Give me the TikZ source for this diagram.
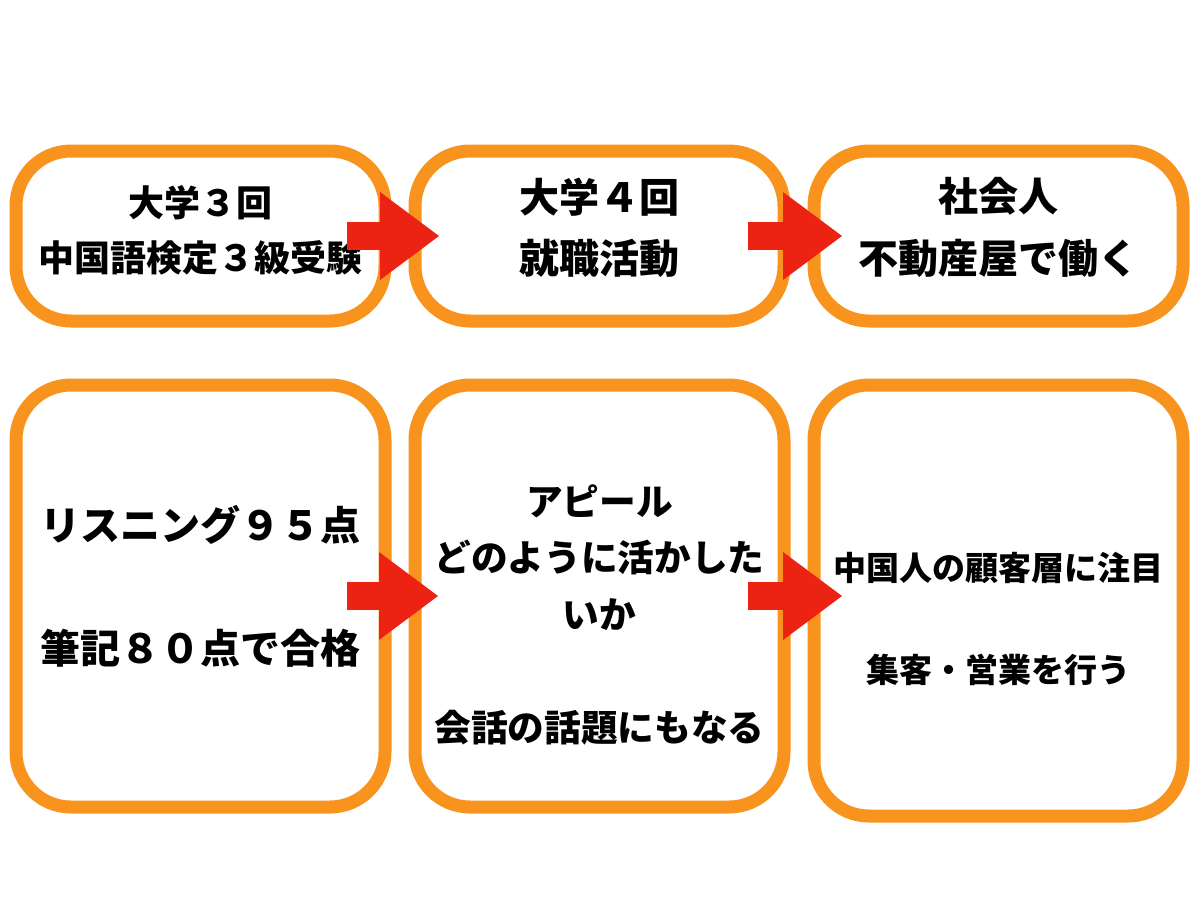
\documentclass[tikz,border=0pt]{standalone}
\usepackage{fontspec}
\usepackage{tikz}
\usetikzlibrary{arrows.meta, positioning}
\newfontfamily\jpfont{Noto Sans CJK JP}
\definecolor{boxorange}{RGB}{248,148,30}
\definecolor{arrowred}{RGB}{236,34,18}

\begin{document}
\begin{tikzpicture}[
    node distance=0.64cm and 0.3cm,
    pbox/.style={draw=boxorange, line width=0.13cm, rounded corners=0.55cm, fill=white, minimum width=3.69cm, outer sep=0pt},
    topbox/.style={pbox, minimum height=1.70cm},
    lowbox/.style={pbox, minimum height=4.22cm},
    ptext/.style={align=center, inner sep=0pt},
    bigtext/.style={font={\jpfont\bfseries\fontsize{11.4pt}{17.5pt}\selectfont}},
    parrow/.style={draw=arrowred, line width=0.28cm, -{Triangle[length=0.59cm, width=0.88cm, line width=0pt]}}
]
\fill[white] (0,0) rectangle (12,-9);

% Top Row
\node[topbox] (b1) at (2.005,-2.36) {};
\node[topbox, right=of b1] (b2) {};
\node[topbox, right=of b2] (b3) {};

% Bottom Row
\node[lowbox, below=of b1] (b4) {};
\node[lowbox, right=of b4] (b5) {};
\node[pbox, minimum height=4.31cm, below=of b3] (b6) {};

% Texts
\node[ptext, font={\jpfont\bfseries\fontsize{10.24pt}{15.8pt}\selectfont}, yshift=0.055cm] (t1) at (b1) {大学３回\\中国語検定３級受験};
\node[ptext, bigtext, yshift=0.08cm] (t2) at (b2) {大学４回\\就職活動};
\node[ptext, bigtext, yshift=0.085cm] (t3) at (b3) {社会人\\不動産屋で働く};
\node[ptext, bigtext, yshift=0.095cm] (t4) at (b4) {リスニング９５点\\[17.5pt]筆記８０点で合格};
\node[ptext, font={\jpfont\bfseries\fontsize{10.44pt}{16.1pt}\selectfont}, yshift=-0.19cm] (t5) at (b5) {アピール\\どのように活かした\\いか\\[16.1pt]会話の話題にもなる};
\node[ptext, font={\jpfont\bfseries\fontsize{9.4pt}{14.5pt}\selectfont}, yshift=-0.18cm] (t6) at (b6) {中国人の顧客層に注目\\[14.5pt]集客・営業を行う};

% Arrows
\draw[parrow] ([xshift=-0.38cm]b1.east) -- ([xshift=0.24cm]b2.west);
\draw[parrow] ([xshift=-0.36cm]b2.east) -- ([xshift=0.28cm]b3.west);
\draw[parrow] ([xshift=-0.38cm]b4.east) -- ([xshift=0.23cm]b5.west);
\draw[parrow] ([xshift=-0.36cm]b5.east) -- ([xshift=0.28cm]b6.west |- b5.east);

\end{tikzpicture}
\end{document}
